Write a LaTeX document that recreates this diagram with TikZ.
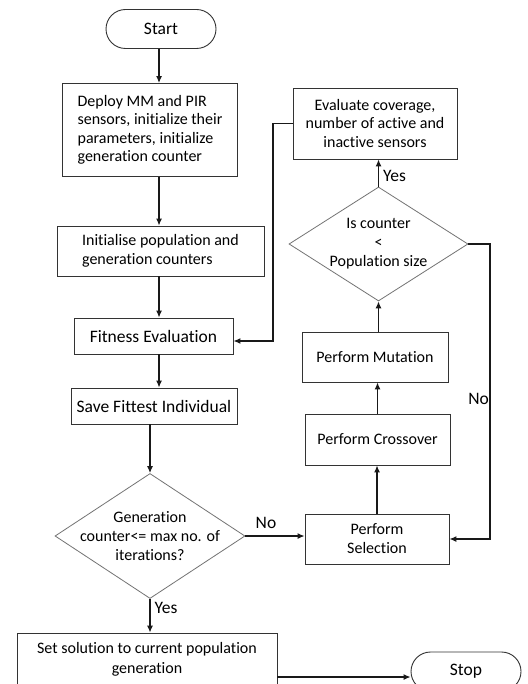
\documentclass[tikz,border=0pt]{standalone}
\usepackage{fontspec}
\setmainfont[Ligatures=NoCommon]{Carlito}
\usetikzlibrary{shapes.geometric,shapes.misc,arrows.meta}
\begin{document}
\begin{tikzpicture}[x=1pt,y=-1pt,
  txt/.style={font=\fontsize{16}{19}\selectfont},
  big/.style={font=\fontsize{17.5}{20}\selectfont},
  deptxt/.style={font=\fontsize{16}{18.5}\selectfont},
  box/.style={txt,draw=black!80,line width=0.9pt,rectangle,inner sep=2pt,align=center},
  term/.style={big,draw=black!80,line width=0.9pt,rounded rectangle,inner sep=2pt,minimum width=114pt,minimum height=39pt},
  dec/.style={txt,draw=black!55,line width=0.8pt,diamond,aspect=1.5,inner xsep=-30pt,inner ysep=-10pt,align=center},
  arr/.style={draw=black!90,line width=1.2pt,-{Latex[length=7pt,width=6pt]}},
  lbl/.style={big,inner sep=0pt}]
\useasboundingbox (0,0) rectangle (527,684);
\clip (0,0) rectangle (527,684);
\fill[white] (0,0) rectangle (527,684);

\node[term] (start) at (161,29) {Start};
\node[box,deptxt,align=left,minimum width=175pt,minimum height=93pt] (deploy) at (150,130)
  {Deploy MM and PIR\\sensors, initialize their\\parameters, initialize\\generation counter};
\node[box,align=left,minimum width=207pt,minimum height=50pt] (init) at (160.5,251)
  {Initialise population and\\generation counters};
\node[box,big,minimum width=159pt,minimum height=36pt] (fit) at (153.5,336) {Fitness Evaluation};
\node[box,big,minimum width=166pt,minimum height=36pt] (save) at (154,406) {Save Fittest Individual};
\node[dec,minimum width=190pt,minimum height=125pt] (gen) at (150,536)
  {Generation\\counter<= max no. of\\iterations?};
\node[box,font=\fontsize{16}{20}\selectfont,minimum width=260pt,minimum height=52pt] (set) at (147,659)
  {Set solution to current population\\generation};
\node[term] (stop) at (466,671.5) {Stop};

\node[box,minimum width=144pt,minimum height=50pt] (sel) at (377,539) {Perform\\Selection};
\node[box,minimum width=145pt,minimum height=51pt] (cross) at (377.5,439.5) {Perform Crossover};
\node[box,minimum width=146pt,minimum height=50pt] (mut) at (375,357) {Perform Mutation};
\node[dec,minimum width=179pt,minimum height=114pt] (isc) at (378.5,244)
  {Is counter\\<\\Population size};
\node[box,font=\fontsize{16}{18.5}\selectfont,minimum width=164pt,minimum height=71pt] (eval) at (375,123.5)
  {Evaluate coverage,\\number of active and\\inactive sensors};

\coordinate (colA) at (159,0);
\coordinate (colB) at (273,0);
\coordinate (colC) at (490,0);

\draw[arr] (colA |- start.south) -- (colA |- deploy.north);
\draw[arr] (colA |- deploy.south) -- (colA |- init.north);
\draw[arr] (colA |- init.south) -- (colA |- fit.north);
\draw[arr] (colA |- fit.south) -- (colA |- save.north);
\draw[arr] (gen.north |- save.south) -- (gen.north);
\draw[arr] (gen.south) -- (gen.south |- set.north);
\draw[arr] (gen.east) -- (gen.east -| sel.west);
\draw[arr] (sel.north) -- (sel.north |- cross.south);
\draw[arr] (cross.north) -- (cross.north |- mut.south);
\draw[arr] (isc.south |- mut.north) -- (isc.south);
\draw[arr] (isc.north) -- (isc.north |- eval.south);
\draw[arr] (isc.east) -- (colC |- isc.east) -- (colC |- sel.east) -- (sel.east);
\draw[arr] (eval.west) -- (colB |- eval.west) -- (colB |- 0,341) -- (fit.east |- 0,341);
\draw[arr] (set.east |- 0,677) -- (stop.west |- 0,677);

\node[lbl] (lno1) at (266,523) {No};
\node[lbl] (lyes1) at (166,608) {Yes};
\node[lbl] (lyes2) at (394.5,176) {Yes};
\node[lbl,anchor=east] (lno2) at (489,399) {No};
\end{tikzpicture}
\end{document}
